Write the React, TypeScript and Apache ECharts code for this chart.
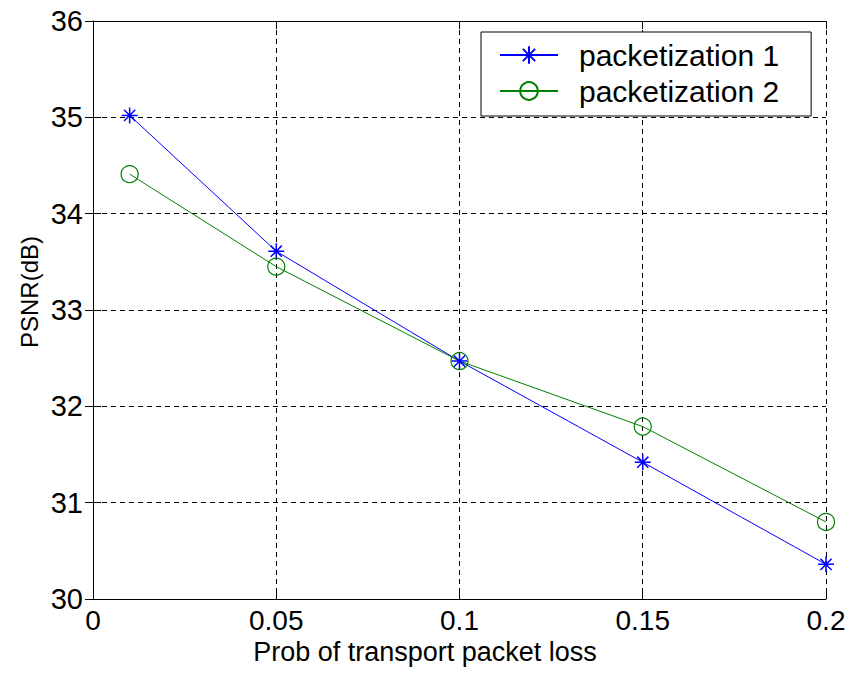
import React, { useEffect, useRef } from "react";
import * as echarts from "echarts";

const xValues = [0.01, 0.05, 0.1, 0.15, 0.2];
const packetization1 = [35.02, 33.61, 32.47, 31.42, 30.36];
const packetization2 = [34.41, 33.45, 32.47, 31.79, 30.8];
const seriesNames = ["packetization 1", "packetization 2"];
const xTitle = "Prob of transport packet loss";
const yTitle = "PSNR(dB)";

const STAR = "path://M0,-10L0,10M-10,0L10,0M-7,-7L7,7M-7,7L7,-7";
const FONT = "Liberation Sans, Arial, sans-serif";

export default function App() {
  const ref = useRef<HTMLDivElement>(null);
  useEffect(() => {
    if (!ref.current) return;
    const chart = echarts.init(ref.current, undefined, { renderer: "svg" });
    const pts = (ys: number[]) => xValues.map((x, i) => [x, ys[i]]);
    const axisCommon = {
      type: "value" as const,
      axisLine: { show: true, lineStyle: { color: "#000", width: 1 } },
      axisTick: { show: true, inside: true, length: 8, lineStyle: { color: "#000" } },
    };
    chart.setOption({
      animation: false,
      backgroundColor: "#fff",
      textStyle: { fontFamily: FONT },
      grid: { left: 93, top: 21, width: 733, height: 578, containLabel: false },
      xAxis: [
        {
          ...axisCommon,
          position: "bottom",
          min: 0,
          max: 0.2,
          interval: 0.05,
          axisLabel: { color: "#000", fontSize: 28, lineHeight: 22, fontFamily: FONT, margin: 10, formatter: (v: number) => String(+v.toFixed(2)) },
          splitLine: { show: true, lineStyle: { color: "#000", type: [5, 4], width: 1 } },
        },
        {
          ...axisCommon,
          position: "top",
          min: 0,
          max: 0.2,
          interval: 0.05,
          axisLabel: { show: false },
          splitLine: { show: false },
        },
      ],
      yAxis: [
        {
          ...axisCommon,
          position: "left",
          min: 30,
          max: 36,
          interval: 1,
          axisLabel: { color: "#000", fontSize: 29, fontFamily: FONT, margin: 10 },
          splitLine: { show: true, lineStyle: { color: "#000", type: [5, 4], width: 1 } },
        },
        {
          ...axisCommon,
          position: "right",
          min: 30,
          max: 36,
          interval: 1,
          axisLabel: { show: false },
          splitLine: { show: false },
        },
      ],
      legend: {
        left: 481,
        top: 32,
        orient: "vertical",
        backgroundColor: "#fff",
        borderColor: "#000",
        borderWidth: 1,
        borderRadius: 0,
        padding: [8, 32, 10, 18],
        itemWidth: 58,
        itemHeight: 22,
        itemGap: 6,
        textStyle: { color: "#000", fontSize: 30, fontFamily: FONT, padding: [0, 0, 0, 16] },
        data: seriesNames,
      },
      graphic: [
        {
          type: "text",
          x: 425,
          y: 652,
          style: { text: xTitle, fontSize: 27, lineHeight: 22, fontFamily: FONT, fill: "#000", align: "center", verticalAlign: "middle" },
        },
        {
          type: "text",
          x: 29,
          y: 292,
          rotation: Math.PI / 2,
          style: { text: yTitle, fontSize: 24, fontFamily: FONT, fill: "#000", align: "center", verticalAlign: "middle" },
        },
      ],
      series: [
        {
          name: seriesNames[0],
          type: "line",
          data: pts(packetization1),
          symbol: STAR,
          symbolSize: 16,
          color: "#0000ff",
          lineStyle: { color: "#0000ff", width: 1 },
          itemStyle: { color: "none", borderColor: "#0000ff", borderWidth: 1.5 },
        },
        {
          name: seriesNames[1],
          type: "line",
          data: pts(packetization2),
          symbol: "circle",
          symbolSize: 17,
          color: "#008000",
          lineStyle: { color: "#008000", width: 1 },
          itemStyle: { color: "rgba(0,0,0,0)", borderColor: "#008000", borderWidth: 1.2 },
        },
      ],
    });
    return () => chart.dispose();
  }, []);
  return <div ref={ref} style={{ position: "fixed", left: 0, top: 0, width: 863, height: 675 }} />;
}
